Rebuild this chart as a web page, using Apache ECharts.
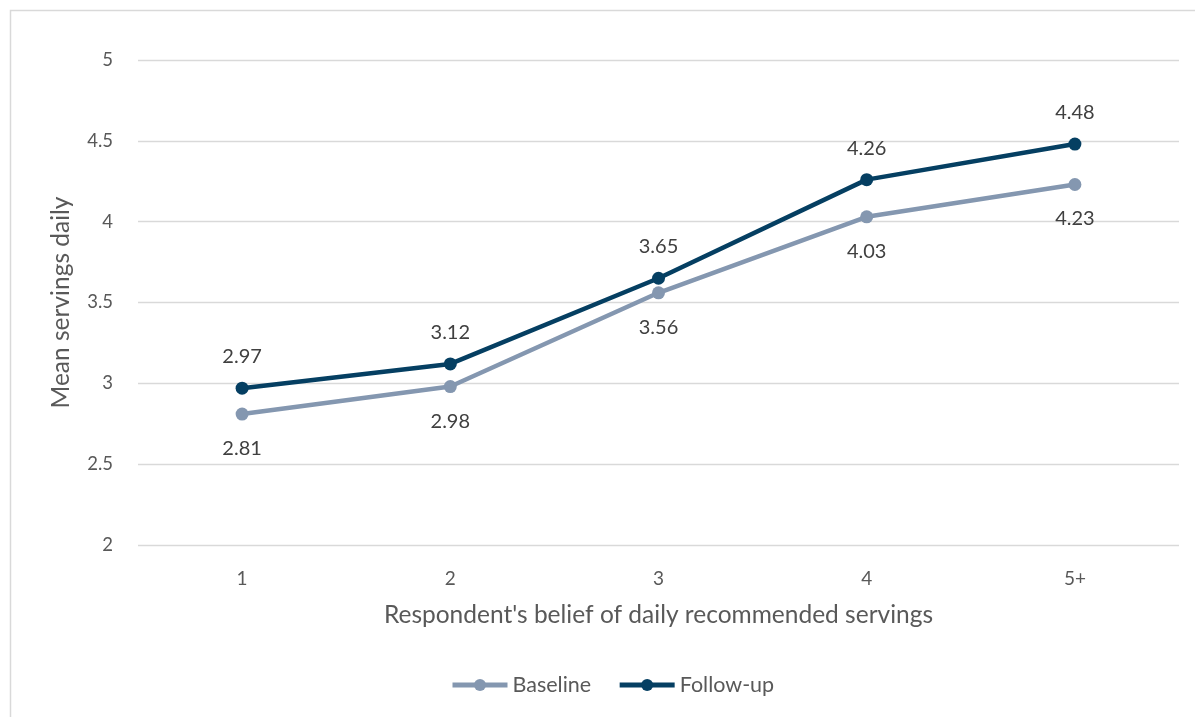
<!DOCTYPE html>
<html>
<head>
<meta charset="utf-8">
<script src="https://cdn.jsdelivr.net/npm/echarts@6/dist/echarts.min.js"></script>
<style>
  html, body { margin: 0; padding: 0; background: #fff; }
  #chart { width: 1195px; height: 717px; }
</style>
</head>
<body>
<div id="chart"></div>
<script>
// Beliefs about recommended daily servings vs. mean servings eaten
const categories = ['1', '2', '3', '4', '5+'];
const baseline = [2.81, 2.98, 3.56, 4.03, 4.23];
const followUp = [2.97, 3.12, 3.65, 4.26, 4.48];
const yTicks = [2, 2.5, 3, 3.5, 4, 4.5, 5];

const FONT = 'Lato, "Open Sans", sans-serif';
const TEXT = '#595959';

const chart = echarts.init(document.getElementById('chart'), null, { renderer: 'canvas' });
chart.setOption({
  animation: false,
  backgroundColor: '#fff',
  textStyle: { fontFamily: FONT },
  graphic: [{
    type: 'rect',
    shape: { x: 10.5, y: 10.5, width: 1200, height: 720 },
    style: { fill: 'none', stroke: '#D9D9D9', lineWidth: 1.5 },
    silent: true
  }],
  grid: { left: 138, right: 16, top: 60, bottom: 172 },
  legend: {
    bottom: 16,
    left: 445,
    itemWidth: 55,
    itemHeight: 15,
    itemGap: 26,
    lineStyle: { width: 5 },
    textStyle: { color: TEXT, fontSize: 21.5, fontFamily: FONT },
    data: ['Baseline', 'Follow-up']
  },
  xAxis: {
    type: 'category',
    data: categories,
    boundaryGap: true,
    name: "Respondent's belief of daily recommended servings",
    nameLocation: 'middle',
    nameGap: 58,
    nameTextStyle: { color: TEXT, fontSize: 24.5, fontFamily: FONT },
    axisLine: { show: false },
    axisTick: { show: false },
    axisLabel: { color: TEXT, fontSize: 19, margin: 24, fontFamily: FONT }
  },
  yAxis: {
    type: 'value',
    min: yTicks[0],
    max: yTicks[yTicks.length - 1],
    interval: 0.5,
    name: 'Mean servings daily',
    nameLocation: 'middle',
    nameGap: 64,
    nameTextStyle: { color: TEXT, fontSize: 24.5, fontFamily: FONT },
    axisLine: { show: false },
    axisTick: { show: false },
    axisLabel: { color: TEXT, fontSize: 18.5, margin: 25, fontFamily: FONT },
    splitLine: { lineStyle: { color: '#D9D9D9', width: 1.3 } }
  },
  series: [
    {
      name: 'Baseline',
      type: 'line',
      data: baseline,
      symbol: 'circle',
      symbolSize: 13,
      lineStyle: { color: '#8497B0', width: 4.5 },
      itemStyle: { color: '#8497B0' },
      label: { show: true, position: 'bottom', distance: 18, color: '#404040', fontSize: 20, fontFamily: FONT }
    },
    {
      name: 'Follow-up',
      type: 'line',
      data: followUp,
      symbol: 'circle',
      symbolSize: 13,
      lineStyle: { color: '#053F62', width: 4.5 },
      itemStyle: { color: '#053F62' },
      label: { show: true, position: 'top', distance: 15, color: '#404040', fontSize: 20, fontFamily: FONT }
    }
  ]
});
</script>
</body>
</html>
